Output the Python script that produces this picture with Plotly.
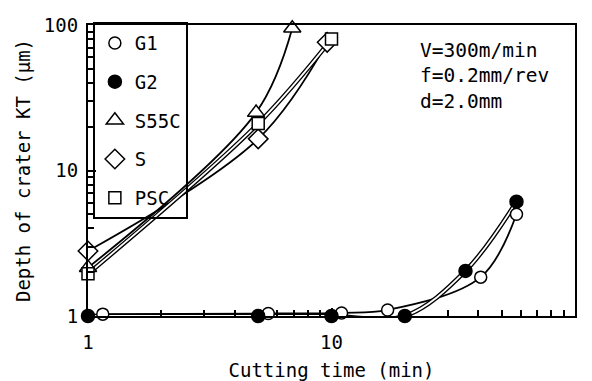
import plotly.graph_objects as go

# Crater depth KT (um) versus cutting time (min) for five tool materials
g1_t = [1.15, 5.5, 11, 17, 41, 57.5]
g1_kt = [1.03, 1.04, 1.05, 1.1, 1.85, 5.0]

g2_t = [1, 5, 10, 20, 35.5, 57.5]
g2_kt = [1.0, 1.0, 1.0, 1.0, 2.04, 6.1]

s55c_t = [1, 4.9, 6.9]
s55c_kt = [2.15, 25, 95]

s_t = [1, 5, 9.6]
s_kt = [2.8, 16.5, 76]

psc_t = [1, 5, 10]
psc_kt = [1.95, 21, 80]

x_ticks = [1, 10, 100]
y_ticks = [1, 10, 100]
minor_vals = [2, 3, 4, 5, 6, 7, 8, 9, 20, 30, 40, 50, 60, 70, 80, 90]

FONT = "DejaVu Sans Mono"

fig = go.Figure()


def curve(t, kt, hollow):
    """Smooth trend line; hollow lines are a wide black stroke with a white core."""
    fig.add_trace(go.Scatter(x=t, y=kt, mode="lines", showlegend=False,
                             line=dict(color="black", width=4.5 if hollow else 1.8,
                                       shape="spline", smoothing=1.0),
                             hoverinfo="skip", cliponaxis=False))
    if hollow:
        fig.add_trace(go.Scatter(x=t, y=kt, mode="lines", showlegend=False,
                                 line=dict(color="white", width=1.8,
                                           shape="spline", smoothing=1.0),
                                 hoverinfo="skip", cliponaxis=False))


curve(g1_t, g1_kt, False)
curve(g2_t, g2_kt, True)
curve(s55c_t, s55c_kt, False)
curve(s_t, s_kt, False)
curve(psc_t, psc_kt, True)

series = [
    ("G1", g1_t, g1_kt, "circle", "white", 12),
    ("G2", g2_t, g2_kt, "circle", "black", 13),
    ("S55C", s55c_t, s55c_kt, "triangle-up", "white", 15),
    ("S", s_t, s_kt, "diamond", "white", 15),
    ("PSC", psc_t, psc_kt, "square", "white", 12),
]
for name, t, kt, sym, fill, size in series:
    fig.add_trace(go.Scatter(
        x=t, y=kt, mode="markers", name=name, legendgroup=name,
        marker=dict(symbol=sym, color=fill, size=size,
                    line=dict(color="black", width=1.5)),
        cliponaxis=False))

axis_common = dict(
    type="log", showgrid=False, zeroline=False, automargin=False,
    showline=True, linecolor="black", linewidth=2, mirror=True,
    ticks="inside", ticklen=8, tickwidth=1.5, tickcolor="black",
    tickfont=dict(family=FONT, size=19, color="black"),
    minor=dict(tickvals=minor_vals, ticks="inside", ticklen=6,
               tickwidth=1.5, tickcolor="black"),
)

fig.update_xaxes(**axis_common, range=[0, 2], tickvals=x_ticks,
                 ticktext=[str(v) for v in x_ticks], ticklabelstandoff=8,
                 title=dict(text="Cutting time (min)", standoff=16,
                            font=dict(family=FONT, size=19, color="black")))
fig.update_yaxes(**axis_common, range=[0, 2], tickvals=y_ticks,
                 ticktext=[str(v) for v in y_ticks], ticklabelstandoff=4,
                 title=dict(text="Depth of crater KT (μm)", standoff=8,
                            font=dict(family=FONT, size=19, color="black")))

fig.add_annotation(
    x=0.678, y=0.96, xref="paper", yref="paper", xanchor="left", yanchor="top",
    text="V=300m/min<br>f=0.2mm/rev<br>d=2.0mm", align="left", showarrow=False,
    font=dict(family=FONT, size=19.5, color="black"))

fig.update_layout(
    width=592, height=381,
    margin=dict(l=88, r=17, t=25, b=65),
    paper_bgcolor="white", plot_bgcolor="white",
    font=dict(family=FONT, size=19, color="black"),
    showlegend=True,
    legend=dict(x=0.01, y=1.01, xanchor="left", yanchor="top",
                bgcolor="rgba(0,0,0,0)", bordercolor="black", borderwidth=2,
                traceorder="grouped", tracegroupgap=11, maxheight=330,
                font=dict(family=FONT, size=19, color="black")),
)

fig.write_html("out.html")
